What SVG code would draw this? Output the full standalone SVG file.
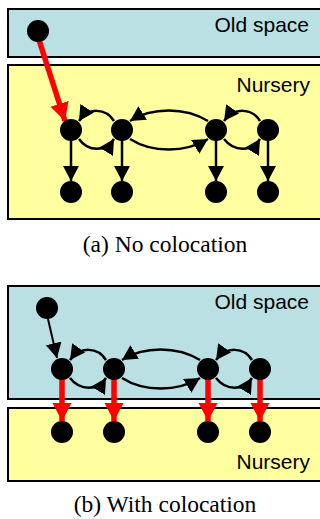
<svg xmlns="http://www.w3.org/2000/svg" width="320" height="519" viewBox="0 0 320 519">
<defs>
<marker id="ah" markerUnits="userSpaceOnUse" markerWidth="17" markerHeight="17" refX="15" refY="8" orient="auto">
<path d="M0,0 L15,8 L0,16 Z" fill="#000"/>
</marker>
<marker id="ahr" markerUnits="userSpaceOnUse" markerWidth="20" markerHeight="20" refX="18" refY="9.5" orient="auto">
<path d="M0,0 L18,9.5 L0,19 Z" fill="#f00"/>
</marker>
</defs>
<style>
.old{fill:#bae0e4;stroke:#000;stroke-width:2}
.nur{fill:#ffffa0;stroke:#000;stroke-width:2}
.lbl{font-family:"Liberation Sans",Arial,sans-serif;font-size:21px;fill:#000;text-anchor:end}
.cap{font-family:"Liberation Serif","Times New Roman",serif;font-size:23.5px;fill:#000;text-anchor:middle}
.n{fill:#000}
.e{fill:none;stroke:#000;stroke-width:2.5;marker-end:url(#ah)}
.r{fill:none;stroke:#f00;stroke-width:5.5;marker-end:url(#ahr)}
</style>

<!-- (a) -->
<g id="a-old-space"><rect class="old" x="8" y="9" width="330" height="48"/><text class="lbl" x="309" y="32">Old space</text></g>
<g id="a-nursery"><rect class="nur" x="8" y="65" width="330" height="154"/><text class="lbl" x="310" y="92">Nursery</text></g>
<g id="a-edges">
<path class="r" d="M39,40 L65,121"/>
<path class="e" d="M114,121 C106,108 88,107 79,121"/>
<path class="e" d="M79,139 C88,152 106,152 114,139"/>
<path class="e" d="M208,121 C185,107 152,107 130,121"/>
<path class="e" d="M130,139 C152,153 185,153 208,139"/>
<path class="e" d="M260,121 C252,108 234,107 224,121"/>
<path class="e" d="M224,139 C234,152 252,152 260,139"/>
<path class="e" d="M71,140 L71,181"/>
<path class="e" d="M122,140 L122,181"/>
<path class="e" d="M216,140 L216,181"/>
<path class="e" d="M268,140 L268,181"/>
</g>
<g id="a-o"><circle class="n" cx="38" cy="31" r="11"/></g>
<g id="a-1"><circle class="n" cx="71" cy="130" r="11"/></g>
<g id="a-2"><circle class="n" cx="122" cy="130" r="11"/></g>
<g id="a-3"><circle class="n" cx="216" cy="130" r="11"/></g>
<g id="a-4"><circle class="n" cx="268" cy="130" r="11"/></g>
<g id="a-5"><circle class="n" cx="71" cy="192" r="11"/></g>
<g id="a-6"><circle class="n" cx="122" cy="192" r="11"/></g>
<g id="a-7"><circle class="n" cx="216" cy="192" r="11"/></g>
<g id="a-8"><circle class="n" cx="268" cy="192" r="11"/></g>
<text class="cap" x="165" y="252">(a) No colocation</text>

<!-- (b) -->
<g id="b-old-space"><rect class="old" x="8" y="286" width="330" height="113"/><text class="lbl" x="309" y="309">Old space</text></g>
<g id="b-nursery"><rect class="nur" x="8" y="408" width="330" height="73"/><text class="lbl" x="310" y="469">Nursery</text></g>
<g id="b-edges">
<path class="e" d="M48,319 L57,358" style="stroke-width:2"/>
<path class="e" d="M106,360 C98,347 80,346 70,360"/>
<path class="e" d="M70,378 C80,391 98,391 106,378"/>
<path class="e" d="M200,360 C177,346 144,346 122,360"/>
<path class="e" d="M122,378 C144,392 177,392 200,378"/>
<path class="e" d="M252,360 C244,347 226,346 216,360"/>
<path class="e" d="M216,378 C226,391 244,391 252,378"/>
<path class="r" d="M62,378 L62,421"/>
<path class="r" d="M114,378 L114,421"/>
<path class="r" d="M208,378 L208,421"/>
<path class="r" d="M260,378 L260,421"/>
</g>
<g id="b-o"><circle class="n" cx="47" cy="308" r="11"/></g>
<g id="b-1"><circle class="n" cx="62" cy="369" r="11"/></g>
<g id="b-2"><circle class="n" cx="114" cy="369" r="11"/></g>
<g id="b-3"><circle class="n" cx="208" cy="369" r="11"/></g>
<g id="b-4"><circle class="n" cx="260" cy="369" r="11"/></g>
<g id="b-5"><circle class="n" cx="62" cy="432" r="11"/></g>
<g id="b-6"><circle class="n" cx="114" cy="432" r="11"/></g>
<g id="b-7"><circle class="n" cx="208" cy="432" r="11"/></g>
<g id="b-8"><circle class="n" cx="260" cy="432" r="11"/></g>
<text class="cap" x="165" y="512">(b) With colocation</text>
</svg>
